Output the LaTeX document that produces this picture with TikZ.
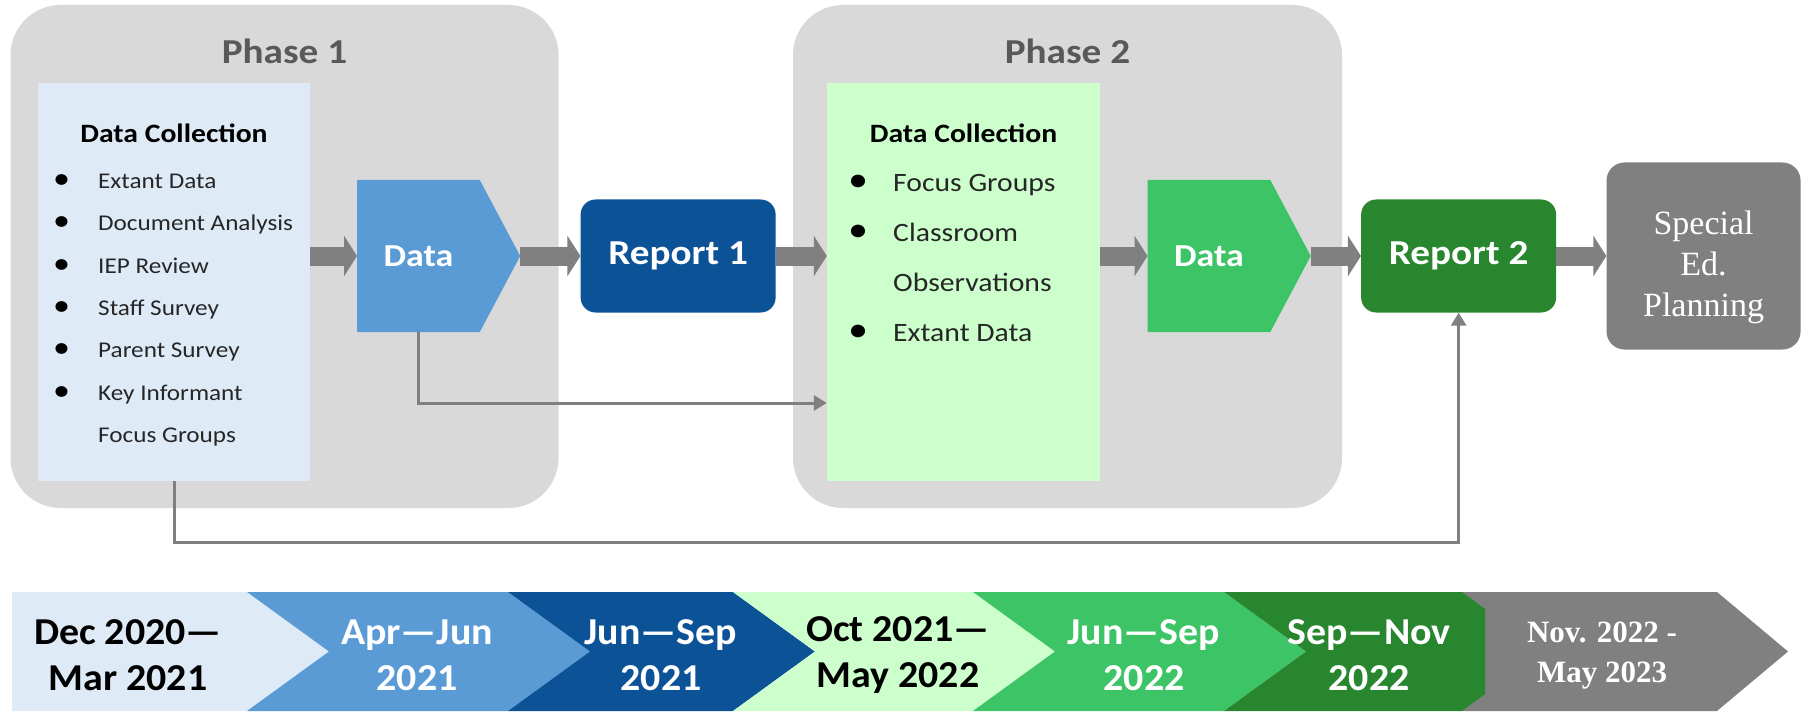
\documentclass[tikz,border=0pt]{standalone}
\usepackage{fontspec}
\setmainfont{Carlito}[FakeStretch=1.12]
\newfontfamily\bandface{Carlito}[FakeStretch=1.05]
\newfontfamily\serifface{Liberation Serif}
\usepackage{tikz}
\usetikzlibrary{shapes.symbols,arrows.meta,positioning,backgrounds,calc}
\definecolor{cPhase}{RGB}{217,217,217}
\definecolor{cLabel}{RGB}{89,89,89}
\definecolor{cIceBlue}{RGB}{222,235,247}
\definecolor{cMidBlue}{RGB}{91,155,213}
\definecolor{cNavy}{RGB}{12,82,150}
\definecolor{cMint}{RGB}{204,255,204}
\definecolor{cGreen}{RGB}{60,196,102}
\definecolor{cForest}{RGB}{40,135,46}
\definecolor{cGray}{RGB}{128,128,128}
\definecolor{cItem}{RGB}{38,38,38}
\tikzset{
  basebox/.style={rectangle,inner sep=0pt,align=center},
  phasebox/.style={basebox,fill=cPhase,rounded corners=50pt},
  phaselabel/.style={font=\fontsize{35}{40}\selectfont\bfseries,text=cLabel},
  collectbox/.style={basebox,minimum width=272pt,minimum height=398pt},
  collecttitle/.style={font=\fontsize{26.5}{30}\selectfont\bfseries,inner sep=0pt},
  listtext/.style={align=left,inner sep=0pt,text=cItem,anchor=north west},
  datanode/.style={signal,signal to=east,signal pointer angle=124,
                   minimum width=163pt,minimum height=152pt,inner sep=0pt,
                   text=white,font=\fontsize{32}{40}\selectfont\bfseries},
  reportnode/.style={basebox,rounded corners=15pt,minimum width=195pt,
                     minimum height=113pt,text=white,
                     font=\fontsize{35}{40}\selectfont\bfseries},
  plannode/.style={basebox,rounded corners=18pt,fill=cGray,minimum width=194pt,
                   minimum height=187pt},
  plantext/.style={align=center,inner sep=0pt,text=white,
                   font=\serifface\fontsize{34}{41}\selectfont},
  tltext/.style={align=center,inner sep=0pt,font=\bandface\fontsize{38}{46}\selectfont\bfseries},
  flowarr/.style={-{Triangle[length=13pt,width=40pt]},line width=19pt,draw=cGray},
  link/.style={-{Triangle[length=13pt,width=15pt]},line width=3pt,draw=cGray}
}
\newcommand{\bul}{\makebox[45pt][l]{\color{black}\scalebox{1.35}{\textbullet}}}

\begin{document}
\begin{tikzpicture}[x=1pt,y=-1pt]
  \useasboundingbox (0,0) rectangle (1807,714);

  % Phase 1 column
  \node[collectbox,fill=cIceBlue] (dc1) at (174,282) {};
  \node[collecttitle] (dc1title) at ($(dc1.north)+(0,50)$) {Data Collection};
  \node[listtext,font=\fontsize{22.5}{42.3}\selectfont] (dc1list) at (53,174)
      {\bul Extant Data\\
       \bul Document Analysis\\
       \bul IEP Review\\
       \bul Staff Survey\\
       \bul Parent Survey\\
       \bul Key Informant\\
       \hspace*{45pt}Focus Groups};
  \node[datanode,fill=cMidBlue] (data1) at (418.5,256) {Data};
  \node[reportnode,fill=cNavy,right=60pt of data1] (report1) {Report 1};

  % Phase 2 column
  \node[collectbox,fill=cMint,minimum width=273pt] (dc2) at (963.5,282) {};
  \node[collecttitle] (dc2title) at ($(dc2.north)+(0,50)$) {Data Collection};
  \node[listtext,font=\fontsize{26.5}{50}\selectfont] (dc2list) at (848,174.5)
      {\bul Focus Groups\\
       \bul Classroom\\
       \hspace*{45pt}Observations\\
       \bul Extant Data};
  \node[datanode,fill=cGreen] (data2) at (1209,256) {Data};
  \node[reportnode,fill=cForest,right=50pt of data2] (report2) {Report 2};
  \node[plannode,right=50pt of report2] (plan) {};
  \node[plantext] (plantxt) at ([yshift=-11pt]plan.center) {Special\\Ed.\\Planning};

  % Phase backgrounds
  \begin{pgfonlayer}{background}
    \node[phasebox,minimum width=548pt,minimum height=503pt] (phase1) at (284.5,256.5) {};
    \node[phasebox,minimum width=549pt,minimum height=503pt] (phase2) at (1067.5,256.5) {};
  \end{pgfonlayer}
  \node[phaselabel] (ph1label) at ($(phase1.north)+(0,47)$) {Phase 1};
  \node[phaselabel] (ph2label) at ($(phase2.north)+(0,47)$) {Phase 2};

  % Main flow
  \draw[flowarr] (dc1.east |- data1.west) -- (data1.west);
  \draw[flowarr] (data1.east) -- (report1.west);
  \draw[flowarr] (report1.east) -- (report1.east -| dc2.west);
  \draw[flowarr] (dc2.east |- data2.west) -- (data2.west);
  \draw[flowarr] (data2.east) -- (report2.west);
  \draw[flowarr] (report2.east) -- (plan.west);

  % Feed-forward links
  \draw[link] (data1.south) |- ([yshift=-121pt]dc2.west);
  \draw[link] (dc1.south) -- ++(0,61) -| (report2.south);

  % Timeline band
  \fill[cIceBlue] (12,592) -- (247,592) -- (329,651.5) -- (247,711) -- (12,711) -- cycle;
  \fill[cMidBlue] (247,592) -- (508,592) -- (590,651.5) -- (508,711) -- (247,711)
      -- (329,651.5) -- cycle;
  \fill[cNavy] (508,592) -- (733,592) -- (815,651.5) -- (733,711) -- (508,711)
      -- (590,651.5) -- cycle;
  \fill[cMint] (733,592) -- (973,592) -- (1055,651.5) -- (973,711) -- (733,711)
      -- (815,651.5) -- cycle;
  \fill[cGreen] (973,592) -- (1224,592) -- (1306,651.5) -- (1224,711) -- (973,711)
      -- (1055,651.5) -- cycle;
  \fill[cGray] (1462,592) -- (1717,592) -- (1788,651.5) -- (1717,711) -- (1462,711) -- cycle;
  \fill[cForest] (1224,592) -- (1462,592) -- (1485,609) -- (1485,694) -- (1462,711)
      -- (1224,711) -- (1306,651.5) -- cycle;

  \node[tltext] (tl1) at (128,655) {Dec 2020—\\Mar 2021};
  \node[tltext,text=white] (tl2) at (417,655) {Apr—Jun\\2021};
  \node[tltext,text=white] (tl3) at (661,655) {Jun—Sep\\2021};
  \node[tltext] (tl4) at (898,655) {Oct 2021—\\May 2022};
  \node[tltext,text=white] (tl5) at (1144,655) {Jun—Sep\\2022};
  \node[tltext,text=white] (tl6) at (1369,655) {Sep—Nov\\2022};
  \node[align=center,inner sep=0pt,text=white,
        font=\serifface\fontsize{31}{40}\selectfont\bfseries] (tl7) at (1602,656)
      {Nov. 2022 -\\May 2023};
\end{tikzpicture}
\end{document}
